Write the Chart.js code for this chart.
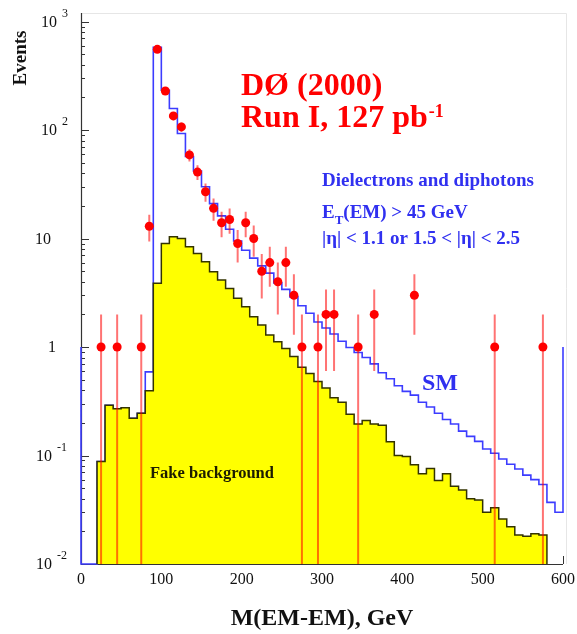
<!DOCTYPE html>
<html>
<head>
<meta charset="utf-8">
<script src="https://cdn.jsdelivr.net/npm/chart.js@4.4.0/dist/chart.umd.min.js"></script>
<style>
  html, body { margin: 0; padding: 0; background: #fff; }
  canvas { display: block; }
</style>
</head>
<body>
<canvas id="c" width="577" height="634"></canvas>
<script>
// histogram binning (GeV)
var binWidth = 10;

// SM expectation, bins from 0 GeV
var smStart = 0;
var smValues = [0, 0, 0.088, 0.29, 0.27, 0.275, 0.22, 0.245, 0.59, 580,
  233, 158, 93, 57, 42, 30, 21, 16.2, 12.2, 9.5,
  7.8, 6.6, 5.6, 4.8, 3.9, 3.4, 2.9, 2.4, 2.05, 1.7,
  1.5, 1.32, 1.13, 0.99, 0.89, 0.8, 0.7, 0.58, 0.51, 0.44,
  0.39, 0.36, 0.31, 0.28, 0.245, 0.215, 0.195, 0.168, 0.15, 0.135,
  0.115, 0.105, 0.093, 0.083, 0.075, 0.066, 0.06, 0.054, 0.037, 0.03];

// fake background, bins from 20 GeV
var fakeStart = 20;
var fakeValues = [0.088, 0.29, 0.27, 0.275, 0.22, 0.245, 0.395, 3.87,
  9.0, 10.4, 10.0, 8.4, 7.3, 6.1, 4.94, 4.14, 3.47, 2.81,
  2.35, 1.9, 1.6, 1.29, 1.12, 0.97, 0.82, 0.65, 0.57, 0.48,
  0.42, 0.34, 0.31, 0.24, 0.195, 0.21, 0.195, 0.19, 0.134, 0.1,
  0.098, 0.082, 0.068, 0.076, 0.059, 0.068, 0.052, 0.048, 0.04, 0.039,
  0.03, 0.033, 0.026, 0.022, 0.0185, 0.018, 0.019, 0.0185];

// data points
var dataMass = [25, 45, 75, 85, 95, 105, 115, 125, 135, 145, 155, 165, 175, 185, 195,
  205, 215, 225, 235, 245, 255, 265, 275, 295, 305, 315, 345, 365, 415, 515, 575];
var dataCounts = [1, 1, 1, 13, 555, 229, 135, 107, 59, 41, 27, 19, 14, 15, 9,
  14, 10, 5, 6, 4, 6, 3, 1, 1, 2, 2, 1, 2, 3, 1, 1];
var dataErrors = [1, 1, 1, 3.6, 23.6, 15.1, 11.6, 10.3, 7.7, 6.4, 5.2, 4.4, 3.7, 3.9, 3,
  3.7, 3.2, 2.2, 2.4, 2, 2.4, 1.7, 1, 1, 1.4, 1.4, 1, 1.4, 1.7, 1, 1];

// axes
var xMin = 0, xMax = 600;
var xTicks = [0, 100, 200, 300, 400, 500, 600];
var xMinorStep = 25;
var yMin = 0.01, yMax = 1200;
var yDecades = [0.01, 0.1, 1, 10, 100, 1000];
var yBase = ['10', '10', '1', '10', '10', '10'];
var yExponents = ['-2', '-1', '', '', '2', '3'];
var yLabelRight = [52, 52, 56, 51, 57, 57];
var baseline = 1; // log-plot baseline the SM outline edges return to

var FONT = '"Liberation Serif", "Times New Roman", serif';

// Chart.js 'before' stepping: horizontal at the previous value, then vertical
function histPoints(start, values, lowEnd, highEnd) {
  var pts = [{x: start, y: lowEnd}];
  for (var i = 0; i < values.length; i++) {
    pts.push({x: start + i * binWidth, y: Math.max(values[i], yMin)});
  }
  var end = start + values.length * binWidth;
  pts.push({x: end, y: Math.max(values[values.length - 1], yMin)});
  pts.push({x: end, y: highEnd});
  return pts;
}

var axesPlugin = {
  id: 'axes',
  beforeDatasetsDraw: function (chart) {
    var c = chart.ctx, a = chart.chartArea, xs = chart.scales.x, ys = chart.scales.y;
    c.save();
    // faint outer frame
    c.strokeStyle = '#e6e6e6';
    c.lineWidth = 1;
    c.beginPath();
    c.moveTo(a.left, a.top + 0.5);
    c.lineTo(a.right + 3.5, a.top + 0.5);
    c.lineTo(a.right + 3.5, a.bottom);
    c.stroke();
    // axis lines
    c.strokeStyle = '#333';
    c.lineWidth = 1.2;
    c.beginPath();
    c.moveTo(a.left + 0.5, a.top);
    c.lineTo(a.left + 0.5, a.bottom + 0.5);
    c.lineTo(a.right, a.bottom + 0.5);
    c.stroke();
    // x ticks (pointing up)
    c.lineWidth = 1;
    c.beginPath();
    for (var m = xMin; m <= xMax; m += xMinorStep) {
      var px = Math.round(xs.getPixelForValue(m)) + 0.5;
      var len = (m % 100 === 0) ? 8 : 4;
      c.moveTo(px, a.bottom);
      c.lineTo(px, a.bottom - len);
    }
    // y ticks (pointing right)
    yDecades.forEach(function (d) {
      for (var k = 1; k <= 9; k++) {
        var v = d * k;
        if (v > yMax) break;
        var py = Math.round(ys.getPixelForValue(v)) + 0.5;
        var len = k === 1 ? 8 : 4;
        c.moveTo(a.left, py);
        c.lineTo(a.left + len, py);
      }
    });
    c.stroke();
    c.restore();
  }
};

var errorBarPlugin = {
  id: 'errbars',
  beforeDatasetDraw: function (chart, args) {
    if (args.index !== 0) return;
    var c = chart.ctx, xs = chart.scales.x, ys = chart.scales.y;
    c.save();
    c.strokeStyle = 'rgba(255,0,0,0.55)';
    c.lineWidth = 2;
    c.beginPath();
    for (var i = 0; i < dataMass.length; i++) {
      var px = xs.getPixelForValue(dataMass[i]);
      var lo = dataCounts[i] - dataErrors[i];
      var hi = dataCounts[i] + dataErrors[i];
      var yLo = lo > yMin ? ys.getPixelForValue(lo) : ys.bottom;
      var yHi = ys.getPixelForValue(hi);
      c.moveTo(px, yLo);
      c.lineTo(px, yHi);
    }
    c.stroke();
    c.restore();
  }
};

var labelsPlugin = {
  id: 'labels',
  afterDraw: function (chart) {
    var c = chart.ctx, a = chart.chartArea, xs = chart.scales.x, ys = chart.scales.y;
    c.save();
    c.fillStyle = '#111';
    // x tick labels
    c.font = '16px ' + FONT;
    c.textAlign = 'center';
    c.textBaseline = 'alphabetic';
    xTicks.forEach(function (v) {
      c.fillText(String(v), xs.getPixelForValue(v), a.bottom + 20);
    });
    // y tick labels with superscripts
    c.textBaseline = 'middle';
    yDecades.forEach(function (v, i) {
      var py = ys.getPixelForValue(v);
      c.font = '16px ' + FONT;
      c.textAlign = 'right';
      c.fillText(yBase[i], yLabelRight[i], py + 1);
      if (yExponents[i]) {
        c.font = '12px ' + FONT;
        c.textAlign = 'left';
        c.fillText(yExponents[i], yLabelRight[i] + 5, py - 8);
      }
    });
    // axis titles
    c.textBaseline = 'alphabetic';
    c.font = 'bold 24px ' + FONT;
    c.textAlign = 'center';
    c.fillText('M(EM-EM), GeV', (a.left + a.right) / 2, 625);
    c.save();
    c.translate(26, 58);
    c.rotate(-Math.PI / 2);
    c.font = 'bold 19px ' + FONT;
    c.fillText('Events', 0, 0);
    c.restore();

    // experiment label
    c.textAlign = 'left';
    c.fillStyle = '#ff0000';
    c.font = 'bold 32px ' + FONT;
    c.fillText('D\u00d8 (2000)', 241, 95);
    var line2 = 'Run I, 127 pb';
    c.fillText(line2, 241, 127);
    var w2 = c.measureText(line2).width;
    c.font = 'bold 18px ' + FONT;
    c.fillText('-1', 241 + w2 + 1, 117);

    // selection text
    var blue = '#3030f0';
    c.fillStyle = blue;
    c.font = 'bold 19px ' + FONT;
    c.fillText('Dielectrons and diphotons', 322, 186);
    var x = 322;
    c.fillText('E', x, 218);
    x += c.measureText('E').width;
    c.font = 'bold 13px ' + FONT;
    c.fillText('T', x, 224);
    x += c.measureText('T').width;
    c.font = 'bold 19px ' + FONT;
    c.fillText('(EM) > 45 GeV', x, 218);
    c.fillText('|\u03b7| < 1.1 or 1.5 < |\u03b7| < 2.5', 322, 244);

    c.font = 'bold 24px ' + FONT;
    c.fillText('SM', 422, 390);

    c.fillStyle = '#1c1c00';
    c.font = 'bold 16.5px ' + FONT;
    c.fillText('Fake background', 150, 478);
    c.restore();
  }
};

new Chart(document.getElementById('c').getContext('2d'), {
  type: 'line',
  data: {
    datasets: [
      {
        type: 'scatter',
        data: dataMass.map(function (m, i) { return {x: m, y: dataCounts[i]}; }),
        pointRadius: 4.5,
        pointBackgroundColor: '#ff0000',
        pointBorderWidth: 0,
        showLine: false,
        clip: false
      },
      {
        data: histPoints(fakeStart, fakeValues, yMin, yMin),
        stepped: 'before',
        borderColor: '#333300',
        borderWidth: 1.5,
        backgroundColor: '#ffff00',
        fill: 'start',
        pointRadius: 0
      },
      {
        data: histPoints(smStart, smValues, baseline, baseline),
        stepped: 'before',
        borderColor: 'rgb(60,60,255)',
        borderWidth: 1.6,
        fill: false,
        pointRadius: 0,
        clip: 3
      }
    ]
  },
  options: {
    responsive: false,
    animation: false,
    layout: { padding: { left: 81, right: 14, top: 13, bottom: 70 } },
    scales: {
      x: { type: 'linear', min: xMin, max: xMax, display: false },
      y: { type: 'logarithmic', min: yMin, max: yMax, display: false }
    },
    plugins: {
      legend: { display: false },
      tooltip: { enabled: false }
    }
  },
  plugins: [axesPlugin, errorBarPlugin, labelsPlugin]
});
</script>
</body>
</html>
